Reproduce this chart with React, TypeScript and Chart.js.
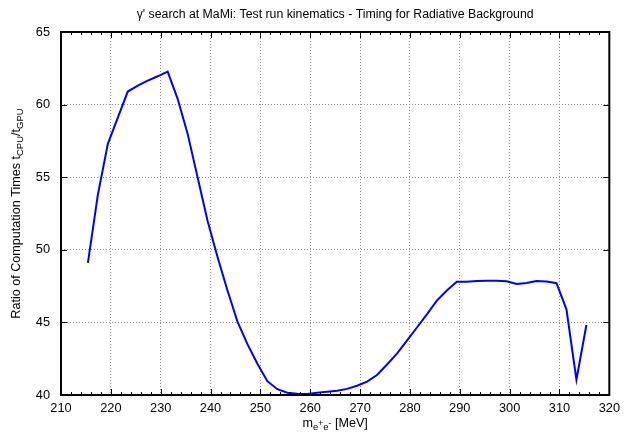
import React, { useEffect, useRef } from "react";
import { Chart, registerables } from "chart.js";

Chart.register(...registerables);

const titleText = "\u03b3' search at MaMi: Test run kinematics - Timing for Radiative Background";

const massMeV = [
  215.4, 217.4, 219.4, 221.4, 223.4, 225.4, 227.4, 229.4, 231.4, 233.4,
  235.4, 237.4, 239.4, 241.4, 243.4, 245.4, 247.4, 249.4, 251.4, 253.4,
  255.4, 257.4, 259.4, 261.4, 263.4, 265.4, 267.4, 269.4, 271.4, 273.4,
  275.4, 277.4, 279.4, 281.4, 283.4, 285.4, 287.4, 289.4, 291.4, 293.4,
  295.4, 297.4, 299.4, 301.4, 303.4, 305.4, 307.4, 309.4, 311.4, 313.4,
  315.4,
];

const ratio = [
  49.1, 53.8, 57.3, 59.1, 60.9, 61.3, 61.65, 61.95, 62.27, 60.4,
  58.0, 55.0, 52.0, 49.5, 47.2, 45.05, 43.5, 42.15, 40.95, 40.4,
  40.16, 40.08, 40.07, 40.15, 40.22, 40.3, 40.42, 40.64, 40.92, 41.38,
  42.1, 42.85, 43.75, 44.65, 45.55, 46.5, 47.2, 47.8, 47.8, 47.85,
  47.87, 47.87, 47.84, 47.65, 47.72, 47.85, 47.82, 47.7, 45.9, 41.05,
  44.82,
];

const xMin = 210;
const xMax = 320;
const xStep = 10;
const xMinorStep = 2;
const yMin = 40;
const yMax = 65;
const yStep = 5;

const FONT = "'Liberation Sans', Arial, sans-serif";

type Seg = { t: string; k: "n" | "sub" | "subsup" };

function segFont(s: Seg) {
  return (s.k === "n" ? "12.6px " : s.k === "sub" ? "9.5px " : "8.5px ") + FONT;
}

function drawSegs(ctx: CanvasRenderingContext2D, segs: Seg[], cx: number, cy: number) {
  let total = 0;
  for (const s of segs) {
    ctx.font = segFont(s);
    total += ctx.measureText(s.t).width;
  }
  let x = cx - total / 2;
  ctx.textAlign = "left";
  ctx.textBaseline = "alphabetic";
  for (const s of segs) {
    ctx.font = segFont(s);
    const w = ctx.measureText(s.t).width;
    const dy = s.k === "n" ? 0 : s.k === "sub" ? 3 : -1;
    ctx.fillText(s.t, x, cy + dy);
    x += w;
  }
}

const decorPlugin = {
  id: "decor",
  afterDraw(chart: any) {
    const ctx: CanvasRenderingContext2D = chart.ctx;
    const { left, right, top, bottom } = chart.chartArea;
    const xs = chart.scales.x;
    const ys = chart.scales.y;
    ctx.save();
    ctx.strokeStyle = "#000";
    ctx.lineWidth = 1;
    for (let v = xMin; v <= xMax + 1e-9; v += xMinorStep) {
      const px = Math.round(xs.getPixelForValue(v)) + 0.5;
      const major = Math.abs(v / xStep - Math.round(v / xStep)) < 1e-6;
      const len = major ? 6 : 3;
      ctx.beginPath();
      ctx.moveTo(px, bottom);
      ctx.lineTo(px, bottom - len);
      ctx.moveTo(px, top);
      ctx.lineTo(px, top + len);
      ctx.stroke();
    }
    for (let v = yMin; v <= yMax + 1e-9; v += yStep) {
      const py = Math.round(ys.getPixelForValue(v)) + 0.5;
      ctx.beginPath();
      ctx.moveTo(left, py);
      ctx.lineTo(left + 6, py);
      ctx.moveTo(right, py);
      ctx.lineTo(right - 6, py);
      ctx.stroke();
    }
    ctx.lineWidth = 2;
    ctx.strokeRect(left, top, right - left, bottom - top);

    ctx.fillStyle = "#000";
    ctx.font = "12.3px " + FONT;
    ctx.textAlign = "center";
    ctx.textBaseline = "alphabetic";
    ctx.fillText(titleText, (left + right) / 2, 18);

    drawSegs(
      ctx,
      [
        { t: "m", k: "n" },
        { t: "e", k: "sub" },
        { t: "+", k: "subsup" },
        { t: "e", k: "sub" },
        { t: "-", k: "subsup" },
        { t: " [MeV]", k: "n" },
      ],
      (left + right) / 2,
      427
    );

    ctx.save();
    ctx.translate(20, (top + bottom) / 2);
    ctx.rotate(-Math.PI / 2);
    drawSegs(
      ctx,
      [
        { t: "Ratio of Computation Times t", k: "n" },
        { t: "CPU", k: "sub" },
        { t: "/t", k: "n" },
        { t: "GPU", k: "sub" },
      ],
      0,
      0
    );
    ctx.restore();
    ctx.restore();
  },
};

export default function App() {
  const ref = useRef<HTMLCanvasElement | null>(null);
  useEffect(() => {
    document.body.style.margin = "0";
    const canvas = ref.current;
    if (!canvas) return;
    const points = massMeV.map((x, i) => ({ x, y: ratio[i] }));
    const tickFont = { family: FONT, size: 12.8 };
    const chart = new Chart(canvas, {
      type: "scatter",
      data: {
        datasets: [
          {
            data: points,
            showLine: true,
            borderColor: "#0000ff",
            backgroundColor: "#0000ff",
            borderWidth: 2,
            pointRadius: 0,
            tension: 0,
          },
        ],
      },
      options: {
        responsive: false,
        animation: false,
        devicePixelRatio: 1,
        layout: { padding: { top: 32, right: 10, left: 0, bottom: 0 } },
        plugins: { legend: { display: false }, tooltip: { enabled: false }, title: { display: false } },
        scales: {
          x: {
            type: "linear",
            min: xMin,
            max: xMax,
            ticks: { stepSize: xStep, font: tickFont, color: "#000", padding: 6, maxRotation: 0, autoSkip: false },
            grid: { color: "#8a8a8a", drawTicks: false, lineWidth: 1 },
            border: { display: false, dash: [1, 2] },
            afterFit: (s: any) => {
              s.height = 39;
            },
          },
          y: {
            type: "linear",
            min: yMin,
            max: yMax,
            ticks: { stepSize: yStep, font: tickFont, color: "#000", padding: 11 },
            grid: { color: "#8a8a8a", drawTicks: false, lineWidth: 1 },
            border: { display: false, dash: [1, 2] },
            afterFit: (s: any) => {
              s.width = 61;
            },
          },
        },
      },
      plugins: [decorPlugin],
    } as any);
    return () => chart.destroy();
  }, []);
  return (
    <div style={{ position: "fixed", left: 0, top: 0, width: 626, height: 434, background: "#fff" }}>
      <canvas ref={ref} width={626} height={434} style={{ display: "block" }} />
    </div>
  );
}
